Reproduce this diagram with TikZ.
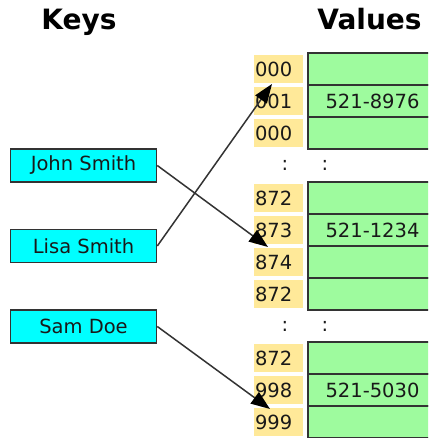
\documentclass[tikz,border=0pt]{standalone}
\usepackage{fontspec}
\setmainfont{DejaVu Sans}
\usetikzlibrary{arrows.meta}
\definecolor{keycyan}{HTML}{00FFFF}
\definecolor{valgreen}{HTML}{9EFB9E}
\definecolor{idxyellow}{HTML}{FFE999}
\definecolor{edgegray}{HTML}{333333}
\begin{document}
\begin{tikzpicture}[x=1bp,y=-1bp,
  txt/.style={font=\fontsize{19.5bp}{23bp}\selectfont, text=black!90},
  keybox/.style={txt, draw=edgegray, line width=1.6bp, fill=keycyan, minimum width=146bp, minimum height=33bp, inner sep=0pt},
  idx/.style={txt, fill=idxyellow, minimum height=28bp, text width=47bp, inner sep=1bp, align=left},
  valrow/.style={txt, draw=edgegray, line width=2bp, fill=valgreen, minimum width=129bp, minimum height=32bp, inner sep=0pt},
  title/.style={font=\fontsize{28bp}{32bp}\selectfont\bfseries, anchor=base, inner sep=0pt},
  dotsym/.style={txt, inner sep=0pt},
  conn/.style={draw=edgegray, line width=1.5bp, -{Triangle[length=19bp,width=14bp,color=black]}}
]
\clip (0,0) rectangle (428,438);
\fill[white] (0,0) rectangle (428,438);

\node[title] (keys) at (79,30) {Keys};
\node[title] (values) at (369.5,30) {Values};

% value rows group 1
\node[valrow] (v1) at (372.5,69) {};
\node[valrow] (v2) at (372.5,101) {521-8976};
\node[valrow] (v3) at (372.5,133) {};
% group 2
\node[valrow] (v4) at (372.5,198) {};
\node[valrow] (v5) at (372.5,230) {521-1234};
\node[valrow] (v6) at (372.5,262) {};
\node[valrow] (v7) at (372.5,294) {};
% group 3
\node[valrow] (v8) at (372.5,358) {};
\node[valrow] (v9) at (372.5,390) {521-5030};
\node[valrow] (v10) at (372.5,422) {};

% index cells
\node[idx] (i1) at (278.5,69) {000};
\node[idx] (i2) at (278.5,101) {001};
\node[idx] (i3) at (278.5,133) {000};
\node[idx] (i4) at (278.5,198) {872};
\node[idx] (i5) at (278.5,230) {873};
\node[idx] (i6) at (278.5,262) {874};
\node[idx] (i7) at (278.5,294) {872};
\node[idx] (i8) at (278.5,358) {872};
\node[idx] (i9) at (278.5,390) {998};
\node[idx] (i10) at (278.5,422) {999};

% dots
\node[dotsym] (d1) at (285,165) {:};
\node[dotsym] (d2) at (325,165) {:};
\node[dotsym] (d3) at (285,326) {:};
\node[dotsym] (d4) at (325,326) {:};

% keys
\node[keybox] (john) at (83.5,165.5) {John Smith};
\node[keybox] (lisa) at (83.5,246) {Lisa Smith};
\node[keybox] (sam) at (83.5,326.5) {Sam Doe};

% arrow tips
\coordinate (t1) at (272,84);
\coordinate (t2) at (268,247);
\coordinate (t3) at (270,409);

\draw[conn] (lisa.east) -- (t1);
\draw[conn] (john.east) -- (t2);
\draw[conn] (sam.east) -- (t3);
\end{tikzpicture}
\end{document}
